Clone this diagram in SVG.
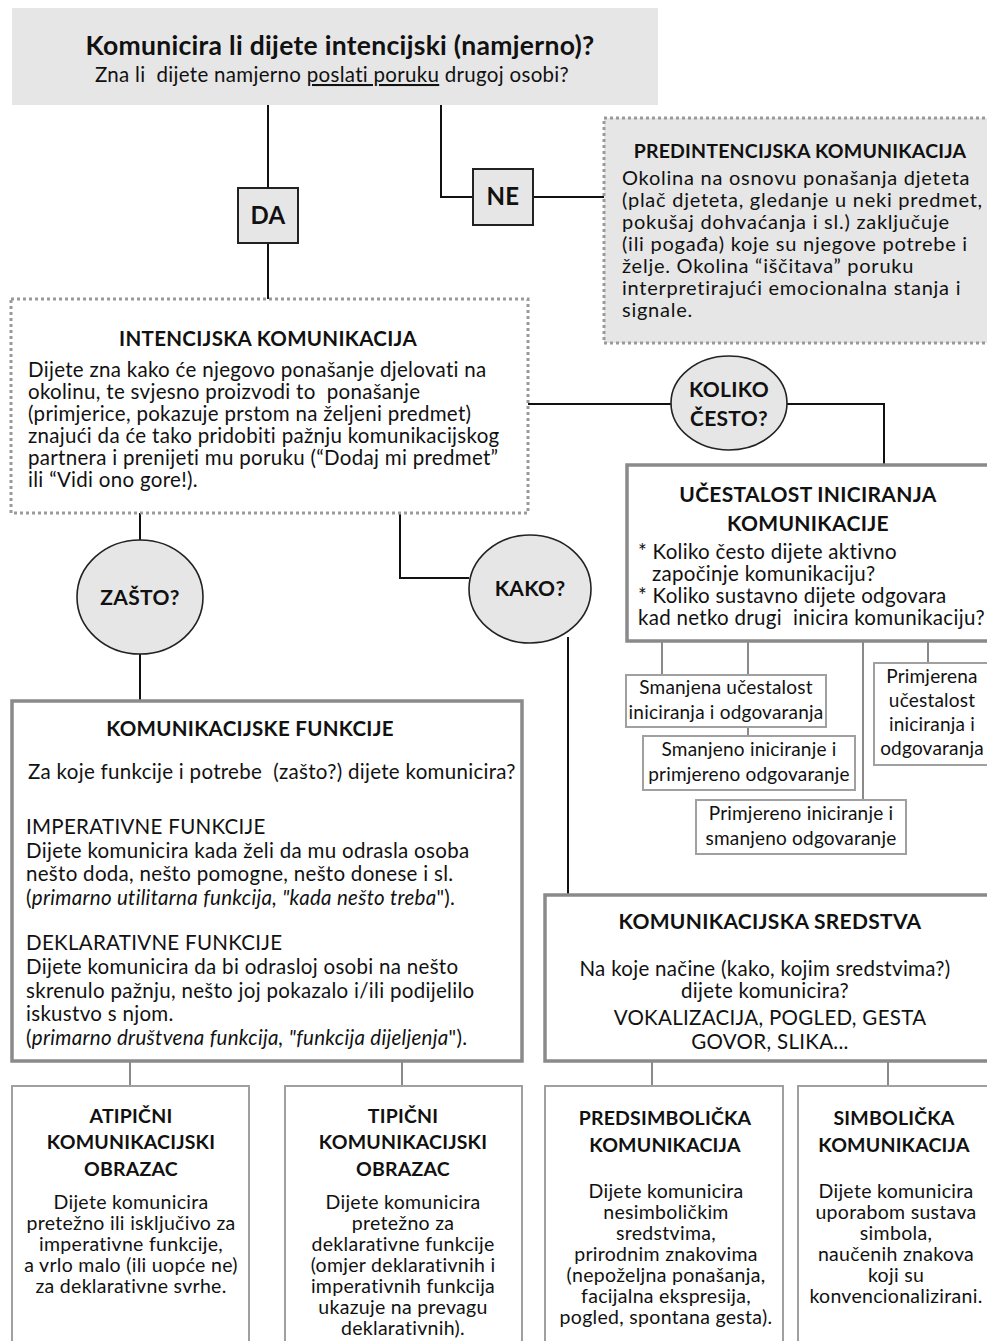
<svg xmlns="http://www.w3.org/2000/svg" width="987" height="1341" viewBox="0 0 987 1341">
<style>
text{font-family:Lato,"Open Sans","Liberation Sans",sans-serif;fill:#111;letter-spacing:0.3px;}
.t{font-size:20.5px;}
.p{font-size:20px;letter-spacing:0.75px;}
.c{text-anchor:middle;}
.b{font-weight:bold;}
.h{font-size:21px;font-weight:bold;}
.s{font-size:19px;letter-spacing:0.2px;}
.bt{font-size:19.5px;font-weight:bold;letter-spacing:0.2px;}
.bb{font-size:19.5px;}
.dot{fill:#fff;stroke:#9a9a9a;stroke-width:3;stroke-dasharray:3 3;}
.dotg{fill:#e6e6e6;stroke:#9a9a9a;stroke-width:3;stroke-dasharray:3 3;}
.thick{fill:#fff;stroke:#8a8a8a;stroke-width:3.5;}
.thin{fill:#fff;stroke:#a0a0a0;stroke-width:2;}
.q{fill:#e6e6e6;stroke:#222;stroke-width:1.6;}
.con line,.con polyline{stroke:#111;stroke-width:2;fill:none;}
.con .g{stroke:#8a8a8a;}
</style>

<g class="con">
<line x1="268" y1="105" x2="268" y2="188"/>
<line x1="268" y1="243" x2="268" y2="299"/>
<polyline points="441,105 441,197 473,197"/>
<line x1="533" y1="197" x2="604" y2="197"/>
<line x1="528" y1="404" x2="671" y2="404"/>
<polyline points="787,404 884,404 884,465"/>
<line x1="140" y1="513" x2="140" y2="540"/>
<line x1="140" y1="654" x2="140" y2="701"/>
<polyline points="400,513 400,578 469,578"/>
<line x1="568" y1="637" x2="568" y2="895"/>
<line class="g" x1="662" y1="641" x2="662" y2="675"/>
<line class="g" x1="748" y1="641" x2="748" y2="736"/>
<line class="g" x1="863" y1="641" x2="863" y2="800"/>
<line class="g" x1="928" y1="641" x2="928" y2="663"/>
<line class="g" x1="130" y1="1061" x2="130" y2="1086"/>
<line class="g" x1="402" y1="1061" x2="402" y2="1086"/>
<line class="g" x1="652" y1="1061" x2="652" y2="1086"/>
<line class="g" x1="888" y1="1061" x2="888" y2="1086"/>
</g>

<g id="pitanje">
<rect x="12" y="8" width="646" height="97" fill="#e6e6e6"/>
<text x="340" y="55" class="c b" style="font-size:26.5px">Komunicira li dijete intencijski (namjerno)?</text>
<text x="332" y="82" class="c" style="font-size:20.5px" xml:space="preserve">Zna li  dijete namjerno <tspan text-decoration="underline">poslati poruku</tspan> drugoj osobi?</text>
</g>

<g id="da">
<rect x="238" y="188" width="60" height="55" fill="#e6e6e6" stroke="#222" stroke-width="2"/>
<text x="268" y="224" class="c b" style="font-size:24px">DA</text>
</g>

<g id="ne">
<rect x="473" y="169" width="60" height="56" fill="#e6e6e6" stroke="#222" stroke-width="2"/>
<text x="503" y="205" class="c b" style="font-size:24px">NE</text>
</g>

<g id="predintencijska">
<rect x="604" y="118" width="390" height="225" class="dotg"/>
<text x="800" y="158" class="c b" style="font-size:19.5px;letter-spacing:0.2px">PREDINTENCIJSKA KOMUNIKACIJA</text>
<text class="p" x="622" y="185">Okolina na osnovu ponašanja djeteta</text>
<text class="p" x="622" y="207">(plač djeteta, gledanje u neki predmet,</text>
<text class="p" x="622" y="229">pokušaj dohvaćanja i sl.) zaključuje</text>
<text class="p" x="622" y="251">(ili pogađa) koje su njegove potrebe i</text>
<text class="p" x="622" y="273">želje. Okolina “iščitava” poruku</text>
<text class="p" x="622" y="295">interpretirajući emocionalna stanja i</text>
<text class="p" x="622" y="317">signale.</text>
</g>

<g id="intencijska">
<rect x="11" y="299" width="517" height="214" class="dot"/>
<text x="268" y="346" class="c b" style="font-size:20.5px">INTENCIJSKA KOMUNIKACIJA</text>
<text class="t" x="28" y="377">Dijete zna kako će njegovo ponašanje djelovati na</text>
<text class="t" x="28" y="399" xml:space="preserve">okolinu, te svjesno proizvodi to  ponašanje</text>
<text class="t" x="28" y="421">(primjerice, pokazuje prstom na željeni predmet)</text>
<text class="t" x="28" y="443">znajući da će tako pridobiti pažnju komunikacijskog</text>
<text class="t" x="28" y="465">partnera i prenijeti mu poruku (“Dodaj mi predmet”</text>
<text class="t" x="28" y="487">ili “Vidi ono gore!).</text>
</g>

<g id="koliko">
<ellipse cx="729" cy="403" rx="58" ry="47" class="q"/>
<text x="729" y="397" class="c h">KOLIKO</text>
<text x="729" y="426" class="c h">ČESTO?</text>
</g>

<g id="ucestalost">
<rect x="627" y="465" width="367" height="176" class="thick"/>
<text x="808" y="502" class="c b" style="font-size:21px">UČESTALOST INICIRANJA</text>
<text x="808" y="531" class="c b" style="font-size:21px">KOMUNIKACIJE</text>
<text class="t" x="638" y="559">* Koliko često dijete aktivno</text>
<text class="t" x="652" y="581">započinje komunikaciju?</text>
<text class="t" x="638" y="603">* Koliko sustavno dijete odgovara</text>
<text class="t" x="638" y="625" xml:space="preserve">kad netko drugi  inicira komunikaciju?</text>
</g>

<g id="smanjena">
<rect x="626" y="675" width="200" height="52" class="thin"/>
<text x="726" y="694" class="c s">Smanjena učestalost</text>
<text x="726" y="719" class="c s">iniciranja i odgovaranja</text>
</g>

<g id="smanjeno-iniciranje">
<rect x="643" y="736" width="212" height="54" class="thin"/>
<text x="749" y="756" class="c s">Smanjeno iniciranje i</text>
<text x="749" y="781" class="c s">primjereno odgovaranje</text>
</g>

<g id="primjereno-iniciranje">
<rect x="696" y="800" width="210" height="54" class="thin"/>
<text x="801" y="820" class="c s">Primjereno iniciranje i</text>
<text x="801" y="845" class="c s">smanjeno odgovaranje</text>
</g>

<g id="primjerena">
<rect x="874" y="663" width="120" height="102" class="thin"/>
<text x="932" y="683" class="c s">Primjerena</text>
<text x="932" y="707" class="c s">učestalost</text>
<text x="932" y="731" class="c s">iniciranja i</text>
<text x="932" y="755" class="c s">odgovaranja</text>
</g>

<g id="zasto">
<ellipse cx="140" cy="597" rx="63" ry="57" class="q"/>
<text x="140" y="605" class="c h">ZAŠTO?</text>
</g>

<g id="kako">
<ellipse cx="530" cy="589" rx="61" ry="54" class="q"/>
<text x="530" y="596" class="c h">KAKO?</text>
</g>

<g id="funkcije">
<rect x="12" y="701" width="510" height="360" class="thick"/>
<text x="250" y="736" class="c b" style="font-size:20.5px">KOMUNIKACIJSKE FUNKCIJE</text>
<text class="t" x="28" y="779" xml:space="preserve">Za koje funkcije i potrebe  (zašto?) dijete komunicira?</text>
<text class="t" x="26" y="834">IMPERATIVNE FUNKCIJE</text>
<text class="t" x="26" y="858">Dijete komunicira kada želi da mu odrasla osoba</text>
<text class="t" x="26" y="881">nešto doda, nešto pomogne, nešto donese i sl.</text>
<text class="t" x="26" y="905">(<tspan font-style="italic">primarno utilitarna funkcija, "kada nešto treba</tspan>").</text>
<text class="t" x="26" y="950">DEKLARATIVNE FUNKCIJE</text>
<text class="t" x="26" y="974">Dijete komunicira da bi odrasloj osobi na nešto</text>
<text class="t" x="26" y="998">skrenulo pažnju, nešto joj pokazalo i/ili podijelilo</text>
<text class="t" x="26" y="1021">iskustvo s njom.</text>
<text class="t" x="26" y="1045">(<tspan font-style="italic">primarno društvena funkcija, "funkcija dijeljenja</tspan>").</text>
</g>

<g id="sredstva">
<rect x="545" y="895" width="449" height="166" class="thick"/>
<text x="770" y="929" class="c b" style="font-size:21px">KOMUNIKACIJSKA SREDSTVA</text>
<text class="t c" x="765" y="976">Na koje načine (kako, kojim sredstvima?)</text>
<text class="t c" x="765" y="998">dijete komunicira?</text>
<text class="t c" x="770" y="1025">VOKALIZACIJA, POGLED, GESTA</text>
<text class="t c" x="770" y="1049">GOVOR, SLIKA...</text>
</g>

<g id="atipicni">
<rect x="12" y="1086" width="237" height="262" class="thin"/>
<text x="131" y="1123" class="c bt">ATIPIČNI</text>
<text x="131" y="1149" class="c bt">KOMUNIKACIJSKI</text>
<text x="131" y="1176" class="c bt">OBRAZAC</text>
<text x="131" y="1209" class="c bb">Dijete komunicira</text>
<text x="131" y="1230" class="c bb">pretežno ili isključivo za</text>
<text x="131" y="1251" class="c bb">imperativne funkcije,</text>
<text x="131" y="1272" class="c bb">a vrlo malo (ili uopće ne)</text>
<text x="131" y="1293" class="c bb">za deklarativne svrhe.</text>
</g>

<g id="tipicni">
<rect x="285" y="1086" width="237" height="262" class="thin"/>
<text x="403" y="1123" class="c bt">TIPIČNI</text>
<text x="403" y="1149" class="c bt">KOMUNIKACIJSKI</text>
<text x="403" y="1176" class="c bt">OBRAZAC</text>
<text x="403" y="1209" class="c bb">Dijete komunicira</text>
<text x="403" y="1230" class="c bb">pretežno za</text>
<text x="403" y="1251" class="c bb">deklarativne funkcije</text>
<text x="403" y="1272" class="c bb">(omjer deklarativnih i</text>
<text x="403" y="1293" class="c bb">imperativnih funkcija</text>
<text x="403" y="1314" class="c bb">ukazuje na prevagu</text>
<text x="403" y="1335" class="c bb">deklarativnih).</text>
</g>

<g id="predsimbolicka">
<rect x="545" y="1086" width="238" height="262" class="thin"/>
<text x="665" y="1125" class="c bt">PREDSIMBOLIČKA</text>
<text x="665" y="1152" class="c bt">KOMUNIKACIJA</text>
<text x="666" y="1198" class="c bb">Dijete komunicira</text>
<text x="666" y="1219" class="c bb">nesimboličkim</text>
<text x="666" y="1240" class="c bb">sredstvima,</text>
<text x="666" y="1261" class="c bb">prirodnim znakovima</text>
<text x="666" y="1282" class="c bb">(nepoželjna ponašanja,</text>
<text x="666" y="1303" class="c bb">facijalna ekspresija,</text>
<text x="666" y="1324" class="c bb">pogled, spontana gesta).</text>
</g>

<g id="simbolicka">
<rect x="798" y="1086" width="196" height="262" class="thin"/>
<text x="894" y="1125" class="c bt">SIMBOLIČKA</text>
<text x="894" y="1152" class="c bt">KOMUNIKACIJA</text>
<text x="896" y="1198" class="c bb">Dijete komunicira</text>
<text x="896" y="1219" class="c bb">uporabom sustava</text>
<text x="896" y="1240" class="c bb">simbola,</text>
<text x="896" y="1261" class="c bb">naučenih znakova</text>
<text x="896" y="1282" class="c bb">koji su</text>
<text x="896" y="1303" class="c bb">konvencionalizirani.</text>
</g>
</svg>
